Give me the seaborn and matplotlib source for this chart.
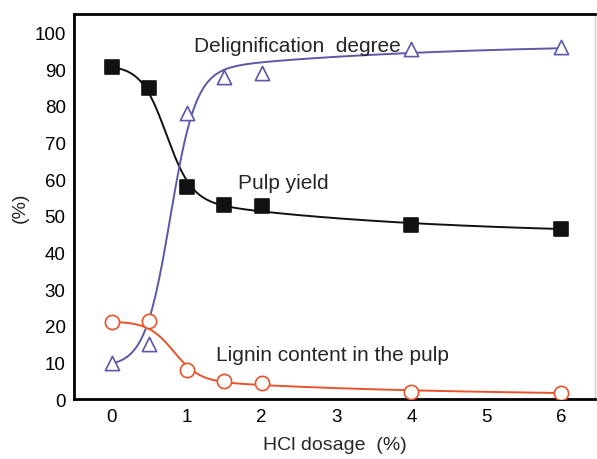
import numpy as np
import pandas as pd
import matplotlib
matplotlib.use("Agg")
import matplotlib.pyplot as plt
import seaborn as sns
from matplotlib.ticker import MultipleLocator

hcl_dosage = [0, 0.5, 1, 1.5, 2, 4, 6]
pulp_yield = [90.5, 85.0, 58.0, 53.0, 52.8, 47.5, 46.3]
delignification = [10.0, 15.0, 78.0, 88.0, 89.0, 95.5, 96.0]
lignin_content = [21.0, 21.2, 8.0, 5.0, 4.5, 2.0, 1.8]

x_ticks = [0, 1, 2, 3, 4, 5, 6]
y_ticks = [0, 10, 20, 30, 40, 50, 60, 70, 80, 90, 100]

sns.set_theme(style="white")
plt.rcParams['font.family'] = ['Liberation Sans', 'DejaVu Sans']


def sigmoid_tail_fit(x, y):
    """Weighted least-squares Boltzmann sigmoid with a slowly relaxing exponential tail."""
    x = np.asarray(x, float)
    y = np.asarray(y, float)
    w = np.where(x == 0, 4.0, 1.0)
    best = None
    for x0 in np.linspace(0.5, 1.2, 71):
        for dx in np.linspace(0.17, 0.4, 24):
            for tau in np.linspace(1.5, 3.0, 7):
                s = 1.0 / (1.0 + np.exp((x - x0) / dx))
                A = np.column_stack([s, 1 - s, (1 - s) * np.exp(-x / tau)])
                coef, *_ = np.linalg.lstsq(A * w[:, None], y * w, rcond=None)
                r = np.sum(((A @ coef - y) * w) ** 2)
                if best is None or r < best[0]:
                    best = (r, x0, dx, tau, coef)
    _, x0, dx, tau, coef = best

    def f(t):
        s = 1.0 / (1.0 + np.exp((t - x0) / dx))
        return coef[0] * s + coef[1] * (1 - s) + coef[2] * (1 - s) * np.exp(-t / tau)
    return f


df = pd.DataFrame({"dose": hcl_dosage, "yield": pulp_yield,
                   "delig": delignification, "lignin": lignin_content})

fig = plt.figure(figsize=(5.97, 4.60), dpi=100)
fig.patch.set_facecolor("white")
ax = fig.add_axes([0.124, 0.130, 0.873, 0.837])

xs = np.linspace(0, 6, 400)
black = "#111111"
blue = "#5b58a8"
red = "#e8532b"

for col, color, marker, filled in [("yield", black, "s", True),
                                   ("delig", blue, "^", False),
                                   ("lignin", red, "o", False)]:
    f = sigmoid_tail_fit(df["dose"], df[col])
    sns.lineplot(x=xs, y=f(xs), ax=ax, color=color, lw=1.4)
    sns.scatterplot(data=df, x="dose", y=col, ax=ax, marker=marker, s=105,
                    facecolor=(color if filled else "white"),
                    edgecolor=color, linewidth=1.2, zorder=5)

ax.set_xlim(-0.5, 6.45)
ax.set_ylim(0, 105)
ax.set_xticks(x_ticks)
ax.set_yticks(y_ticks)
ax.xaxis.set_minor_locator(MultipleLocator(0.5))
ax.yaxis.set_minor_locator(MultipleLocator(5))
ax.tick_params(which="major", direction="in", length=7, width=2, colors="black",
               labelsize=13.5, top=False, right=False, pad=6)
ax.tick_params(which="minor", direction="in", length=4, width=1.5, colors="black",
               top=False, right=False)
for side in ["left", "bottom", "top"]:
    ax.spines[side].set_color("black")
    ax.spines[side].set_linewidth(2)
ax.spines["right"].set_color("#cccccc")
ax.spines["right"].set_linewidth(1)

ax.set_xlabel("HCl dosage  (%)", fontsize=14, labelpad=8)
ax.set_ylabel("(%)", fontsize=14, labelpad=4)

ax.text(1.1, 96.5, "Delignification  degree", fontsize=15, ha="left", va="center")
ax.text(1.68, 59, "Pulp yield", fontsize=15, ha="left", va="center")
ax.text(1.39, 12.3, "Lignin content in the pulp", fontsize=15, ha="left", va="center")

fig.savefig("out.png", dpi=100)
